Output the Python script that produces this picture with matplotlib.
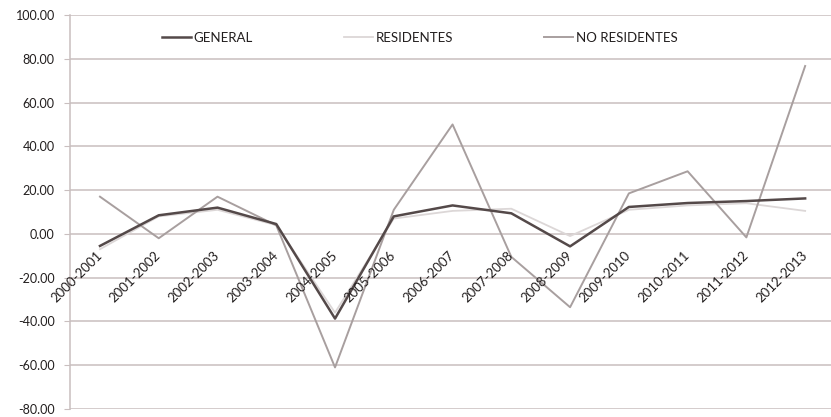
import numpy as np
from matplotlib import pyplot as plt
from matplotlib.ticker import FormatStrFormatter

# variacion interanual por temporada
temporadas = ['2000-2001', '2001-2002', '2002-2003', '2003-2004', '2004-2005',
              '2005-2006', '2006-2007', '2007-2008', '2008-2009', '2009-2010',
              '2010-2011', '2011-2012', '2012-2013']
general = [-5.5, 8.5, 12.0, 4.5, -38.7, 8.0, 13.0, 9.4, -5.7, 12.3, 14.1, 15.0, 16.2]
residentes = [-7.0, 8.0, 11.0, 4.0, -36.0, 7.0, 10.5, 11.5, -1.0, 11.0, 13.0, 14.0, 10.5]
no_residentes = [17.0, -2.0, 17.0, 3.9, -61.0, 11.0, 50.0, -10.5, -33.5, 18.5, 28.6, -1.6, 76.7]

plt.rcParams['font.family'] = ['Lato', 'DejaVu Sans']

fig = plt.figure(figsize=(8.31, 4.17), dpi=100)
ax = fig.add_axes([70/831, 8/417, 761/831, 394/417])

x = np.arange(len(temporadas))
grid_c = '#c9bfbf'
txt_c = '#221e1e'

ax.plot(x, general, color='#544949', lw=1.8, label='GENERAL', zorder=4)
ax.plot(x, residentes, color='#dcd7d7', lw=1.3, label='RESIDENTES', zorder=2)
ax.plot(x, no_residentes, color='#a89f9f', lw=1.4, label='NO RESIDENTES', zorder=3)

ax.set_xlim(-0.51, 12.44)
ax.set_ylim(-80, 100)
ax.set_yticks(np.arange(-80, 101, 20))
ax.yaxis.set_major_formatter(FormatStrFormatter('%.2f'))
ax.grid(axis='y', color=grid_c, lw=1.1)
ax.set_axisbelow(True)
for s in ['top', 'right', 'bottom']:
    ax.spines[s].set_visible(False)
ax.spines['left'].set_color(grid_c)
ax.spines['left'].set_linewidth(1.1)
ax.tick_params(axis='y', length=4, color=grid_c, labelsize=9, labelcolor=txt_c, pad=7)
ax.set_xticks([])

# etiquetas de temporada junto a la linea del cero
for i, t in enumerate(temporadas):
    ax.annotate(t, (i, 0), xytext=(-3, -11), textcoords='offset points',
                rotation=45, rotation_mode='anchor', ha='right', va='top',
                fontsize=9.5, color=txt_c, zorder=5)

fig.legend(loc='center', bbox_to_anchor=(0.505, 0.91), ncol=3, frameon=False,
           handlelength=2.2, handletextpad=0.2, columnspacing=6.9,
           fontsize=9.5, labelcolor=txt_c)

plt.savefig('out.png', dpi=100)
